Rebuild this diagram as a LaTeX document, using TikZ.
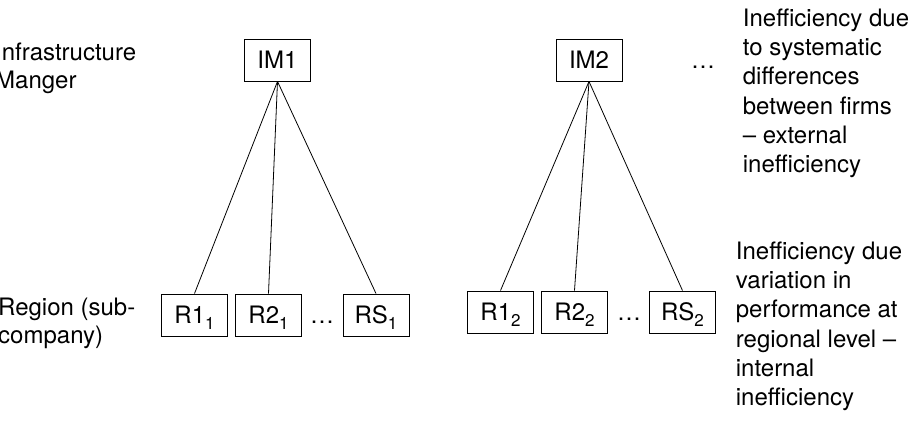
\documentclass[tikz,border=0pt]{standalone}
\usepackage{fontspec}
\setmainfont{TeX Gyre Heros}
\newcommand\sbx[1]{\raisebox{-6pt}{\fontsize{17}{17}\selectfont #1}}
\begin{document}
\begin{tikzpicture}[x=1pt,y=-1pt,
  box/.style={draw, line width=0.9pt, minimum width=66pt, minimum height=42pt, inner sep=0pt,
    text height=17pt, text depth=0pt, font=\fontsize{24}{28}\selectfont},
  dots/.style={inner sep=0pt, text height=17pt, text depth=0pt, font=\fontsize{24}{28}\selectfont},
  lab/.style={inner sep=0pt, align=left, anchor=north west, font=\fontsize{24}{29.3}\selectfont},
  link/.style={line width=0.8pt}]
\useasboundingbox (0,0) rectangle (914,422);
\fill[white] (0,0) rectangle (914,422);

\node[box] (im1) at (277.5,60) {IM1};
\node[box] (im2) at (589,60) {IM2};
\node[dots] (topdots) at (703,60) {…};

\node[box] (r11) at (194.5,315) {R1\sbx{1}};
\node[box] (r21) at (268.5,315) {R2\sbx{1}};
\node[dots] (d1) at (322,315) {…};
\node[box] (rs1) at (376,315) {RS\sbx{1}};

\node[box] (r12) at (500.5,312) {R1\sbx{2}};
\node[box] (r22) at (574.5,312) {R2\sbx{2}};
\node[dots] (d2) at (629,312) {…};
\node[box] (rs2) at (682.5,312) {RS\sbx{2}};

\draw[link] (im1.south) -- (r11.north);
\draw[link] (im1.south) -- (r21.north);
\draw[link] (im1.south) -- (rs1.north);
\draw[link] (im2.south) -- (r12.north);
\draw[link] (im2.south) -- (r22.north);
\draw[link] (im2.south) -- (rs2.north);

\node[lab, font=\fontsize{24}{28}\selectfont] (lim) at (-5,42.4) {Infrastructure\\Manger};
\node[lab, font=\fontsize{24}{28}\selectfont] (lreg) at (-2,297.5) {Region (sub-\\company)};
\node[lab] (lext) at (742.7,8.4) {Inefficiency due\\to systematic\\differences\\between firms\\– external\\inefficiency};
\node[lab] (lint) at (735.7,241.4) {Inefficiency due\\variation in\\performance at\\regional level –\\internal\\inefficiency};
\end{tikzpicture}
\end{document}
